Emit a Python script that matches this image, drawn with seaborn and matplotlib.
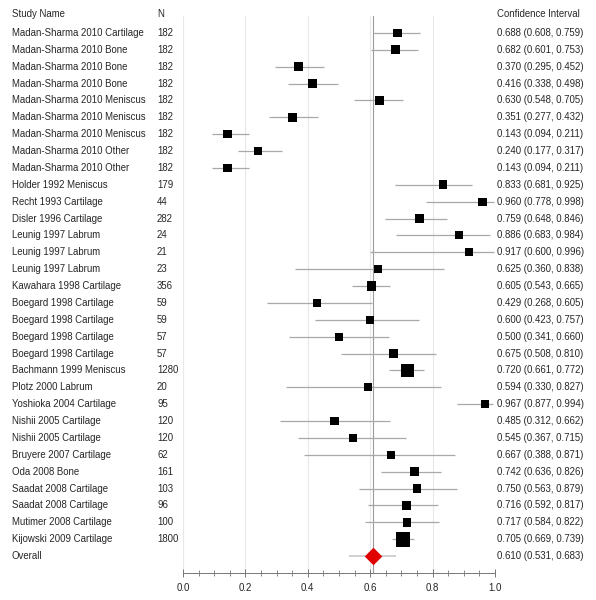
import matplotlib
matplotlib.use("Agg")
import matplotlib.pyplot as plt
import matplotlib.transforms as mtransforms
from matplotlib.ticker import MultipleLocator
import numpy as np
import pandas as pd
import seaborn as sns

studies = [
    "Madan-Sharma 2010 Cartilage", "Madan-Sharma 2010 Bone", "Madan-Sharma 2010 Bone",
    "Madan-Sharma 2010 Bone", "Madan-Sharma 2010 Meniscus", "Madan-Sharma 2010 Meniscus",
    "Madan-Sharma 2010 Meniscus", "Madan-Sharma 2010 Other", "Madan-Sharma 2010 Other",
    "Holder 1992 Meniscus", "Recht 1993 Cartilage", "Disler 1996 Cartilage",
    "Leunig 1997 Labrum", "Leunig 1997 Labrum", "Leunig 1997 Labrum",
    "Kawahara 1998 Cartilage", "Boegard 1998 Cartilage", "Boegard 1998 Cartilage",
    "Boegard 1998 Cartilage", "Boegard 1998 Cartilage", "Bachmann 1999 Meniscus",
    "Plotz 2000 Labrum", "Yoshioka 2004 Cartilage", "Nishii 2005 Cartilage",
    "Nishii 2005 Cartilage", "Bruyere 2007 Cartilage", "Oda 2008 Bone",
    "Saadat 2008 Cartilage", "Saadat 2008 Cartilage", "Mutimer 2008 Cartilage",
    "Kijowski 2009 Cartilage",
]
n_values = [182, 182, 182, 182, 182, 182, 182, 182, 182, 179, 44, 282, 24, 21, 23, 356,
            59, 59, 57, 57, 1280, 20, 95, 120, 120, 62, 161, 103, 96, 100, 1800]
estimates = [0.688, 0.682, 0.370, 0.416, 0.630, 0.351, 0.143, 0.240, 0.143, 0.833, 0.960,
             0.759, 0.886, 0.917, 0.625, 0.605, 0.429, 0.600, 0.500, 0.675, 0.720, 0.594,
             0.967, 0.485, 0.545, 0.667, 0.742, 0.750, 0.716, 0.717, 0.705]
lower = [0.608, 0.601, 0.295, 0.338, 0.548, 0.277, 0.094, 0.177, 0.094, 0.681, 0.778,
         0.648, 0.683, 0.600, 0.360, 0.543, 0.268, 0.423, 0.341, 0.508, 0.661, 0.330,
         0.877, 0.312, 0.367, 0.388, 0.636, 0.563, 0.592, 0.584, 0.669]
upper = [0.759, 0.753, 0.452, 0.498, 0.705, 0.432, 0.211, 0.317, 0.211, 0.925, 0.998,
         0.846, 0.984, 0.996, 0.838, 0.665, 0.605, 0.757, 0.660, 0.810, 0.772, 0.827,
         0.994, 0.662, 0.715, 0.871, 0.826, 0.879, 0.817, 0.822, 0.739]
overall_label = "Overall"
overall_est, overall_lo, overall_hi = 0.610, 0.531, 0.683
x_ticks = [0.0, 0.2, 0.4, 0.6, 0.8, 1.0]

sns.set_theme(style="white")
plt.rcParams["font.family"] = ["Liberation Sans", "DejaVu Sans"]
FS = 6.9

df = pd.DataFrame({"study": studies, "n": n_values, "est": estimates,
                   "lo": lower, "hi": upper})
df["row"] = np.arange(1, len(df) + 1)
side_pt = (8.0 + 0.0037 * df["n"]) / 1.389
df["area"] = side_pt ** 2
overall_row = len(df) + 1

fig = plt.figure(figsize=(5.96, 6.0), dpi=100)
ax = fig.add_axes([183 / 596, 27 / 600, (495 - 183) / 596, (573 - 16) / 600])

# gridlines
for xt in x_ticks[:-1]:
    ax.axvline(xt, color="#e8e8e8", lw=0.8, zorder=0)
ax.axvline(x_ticks[-1], color="#e4e4e4", lw=0.8, ls=(0, (1, 1)), zorder=0)
ax.axvline(overall_est, color="#9a9a9a", lw=0.8, zorder=1)

# CI lines
ax.hlines(df["row"], df["lo"], df["hi"], color="#a8a8a8", lw=0.9, zorder=2)
ax.hlines([overall_row], [overall_lo], [overall_hi], color="#c8c8c8", lw=1.2, zorder=2)

sns.scatterplot(data=df, x="est", y="row", size="area",
                sizes=(df["area"].min(), df["area"].max()),
                marker="s", color="black", edgecolor="black", linewidth=0,
                legend=False, ax=ax, zorder=3)
sns.scatterplot(x=[overall_est], y=[overall_row], marker="D", s=80,
                color="#e00000", edgecolor="#e00000", linewidth=0,
                legend=False, ax=ax, zorder=4)

ax.set_ylim(33, 0)
ax.set_xlabel("")
ax.set_ylabel("")
ax.set_yticks([])
ax.set_xticks(x_ticks)
ax.set_xticklabels([f"{t:.1f}" for t in x_ticks], fontsize=FS, color="#222222")
ax.xaxis.set_minor_locator(MultipleLocator(0.05))
ax.tick_params(axis="x", which="major", direction="inout", length=6, width=0.7,
               color="#777777", bottom=True, pad=4)
ax.tick_params(axis="x", which="minor", direction="inout", length=4, width=0.6,
               color="#777777", bottom=True)
for s in ["left", "right", "top"]:
    ax.spines[s].set_visible(False)
ax.spines["bottom"].set_color("#777777")
ax.spines["bottom"].set_linewidth(0.7)
ax.spines["bottom"].set_bounds(0, 1)
ax.set_xlim(0, 1)

trans = mtransforms.blended_transform_factory(fig.transFigure, ax.transData)
name_x, n_x, ci_x = 12 / 596, 157 / 596, 497 / 596
header_row = -0.1
ax.text(name_x, header_row, "Study Name", transform=trans, fontsize=FS, va="center", clip_on=False)
ax.text(n_x, header_row, "N", transform=trans, fontsize=FS, va="center", clip_on=False)
ax.text(ci_x, header_row, "Confidence Interval", transform=trans, fontsize=FS, va="center", clip_on=False)

for r, name, n, e, l, h in zip(df["row"], df["study"], df["n"], df["est"], df["lo"], df["hi"]):
    ax.text(name_x, r, name, transform=trans, fontsize=FS, va="center", clip_on=False)
    ax.text(n_x, r, str(n), transform=trans, fontsize=FS, va="center", clip_on=False)
    ax.text(ci_x, r, f"{e:.3f} ({l:.3f}, {h:.3f})", transform=trans, fontsize=FS,
            va="center", clip_on=False)
ax.text(name_x, overall_row, overall_label, transform=trans, fontsize=FS, va="center", clip_on=False)
ax.text(ci_x, overall_row, f"{overall_est:.3f} ({overall_lo:.3f}, {overall_hi:.3f})",
        transform=trans, fontsize=FS, va="center", clip_on=False)

fig.savefig("out.png", dpi=100)
